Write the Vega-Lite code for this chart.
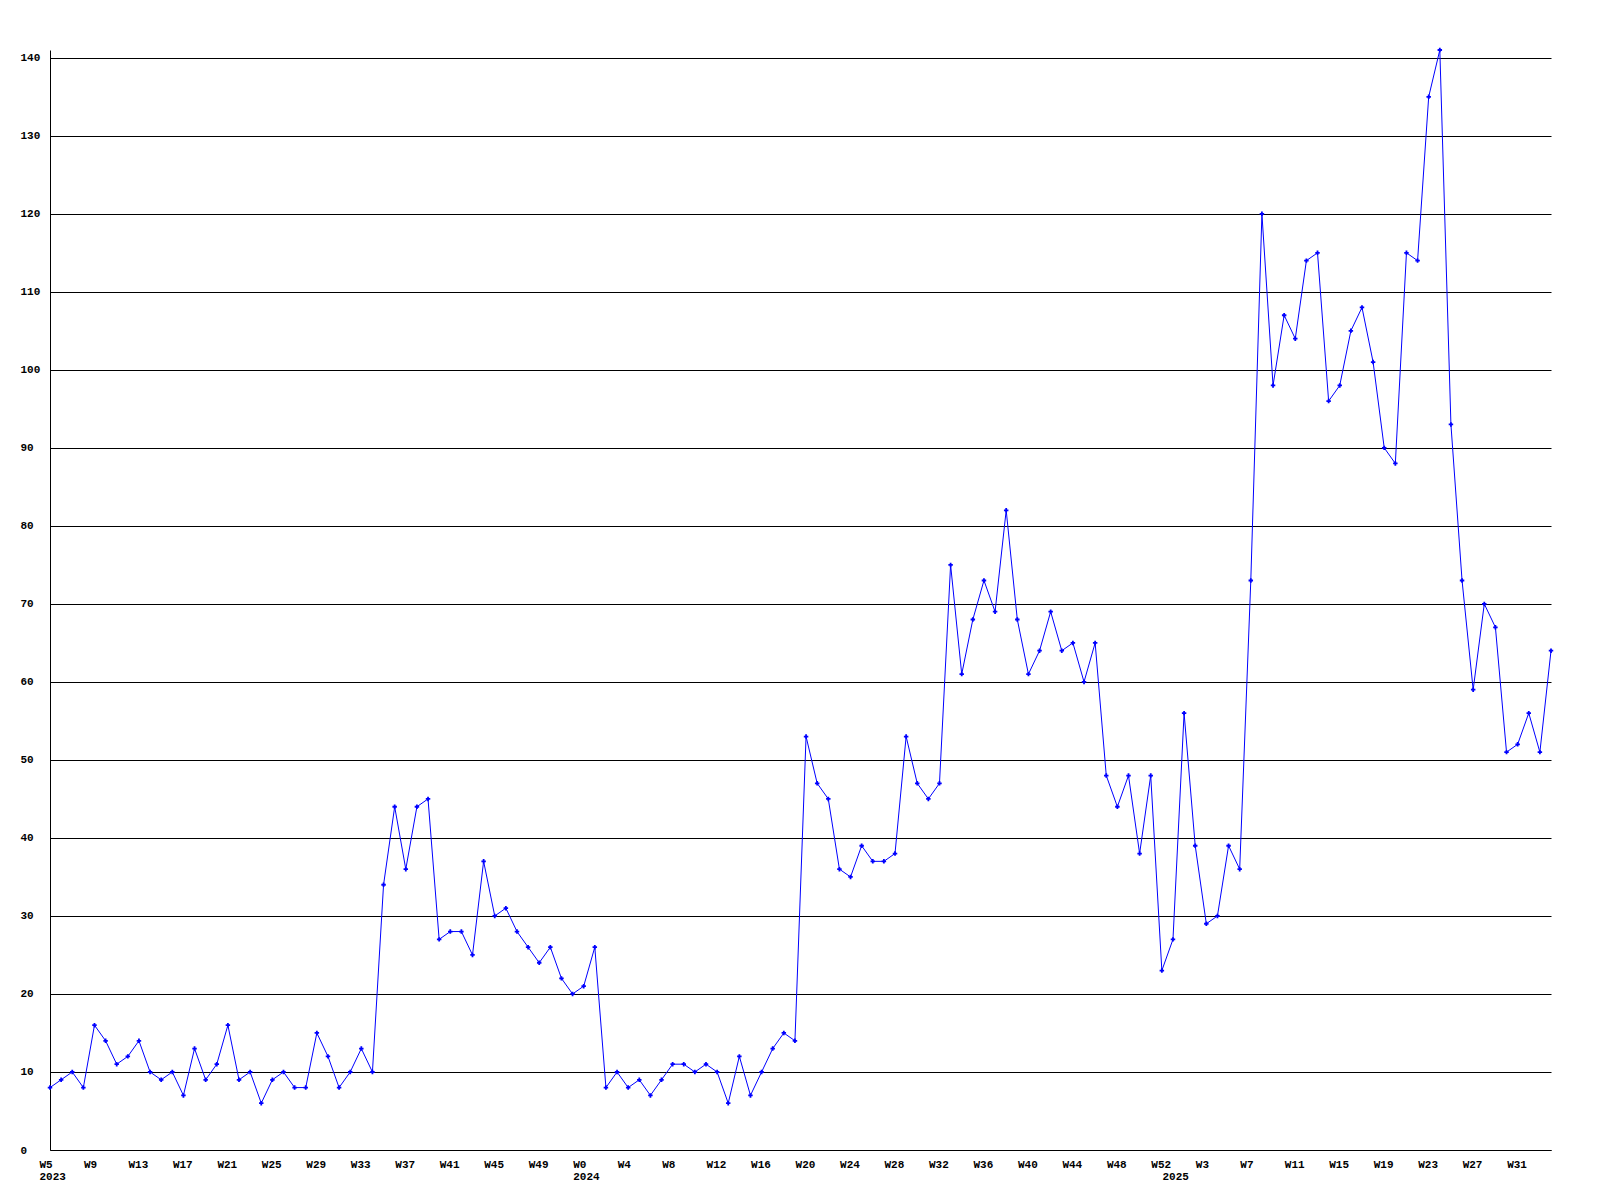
{
  "$schema": "https://vega.github.io/schema/vega-lite/v6.json",
  "width": 1501,
  "height": 1100,
  "autosize": {"type": "none"},
  "padding": {"left": 50, "top": 50, "right": 49, "bottom": 50},
  "background": "white",
  "config": {
    "view": {"stroke": null},
    "axis": {
      "labelFont": "Liberation Mono",
      "labelFontWeight": "bold",
      "labelFontSize": 11,
      "labelColor": "black",
      "domainColor": "black",
      "domainWidth": 1,
      "gridColor": "black",
      "gridOpacity": 1,
      "gridWidth": 1,
      "ticks": false,
      "title": null
    }
  },
  "data": {
    "values": [
      {"k": "2023-05", "v": 8}, {"k": "2023-06", "v": 9}, {"k": "2023-07", "v": 10}, {"k": "2023-08", "v": 8},
      {"k": "2023-09", "v": 16}, {"k": "2023-10", "v": 14}, {"k": "2023-11", "v": 11}, {"k": "2023-12", "v": 12},
      {"k": "2023-13", "v": 14}, {"k": "2023-14", "v": 10}, {"k": "2023-15", "v": 9}, {"k": "2023-16", "v": 10},
      {"k": "2023-17", "v": 7}, {"k": "2023-18", "v": 13}, {"k": "2023-19", "v": 9}, {"k": "2023-20", "v": 11},
      {"k": "2023-21", "v": 16}, {"k": "2023-22", "v": 9}, {"k": "2023-23", "v": 10}, {"k": "2023-24", "v": 6},
      {"k": "2023-25", "v": 9}, {"k": "2023-26", "v": 10}, {"k": "2023-27", "v": 8}, {"k": "2023-28", "v": 8},
      {"k": "2023-29", "v": 15}, {"k": "2023-30", "v": 12}, {"k": "2023-31", "v": 8}, {"k": "2023-32", "v": 10},
      {"k": "2023-33", "v": 13}, {"k": "2023-34", "v": 10}, {"k": "2023-35", "v": 34}, {"k": "2023-36", "v": 44},
      {"k": "2023-37", "v": 36}, {"k": "2023-38", "v": 44}, {"k": "2023-39", "v": 45}, {"k": "2023-40", "v": 27},
      {"k": "2023-41", "v": 28}, {"k": "2023-42", "v": 28}, {"k": "2023-43", "v": 25}, {"k": "2023-44", "v": 37},
      {"k": "2023-45", "v": 30}, {"k": "2023-46", "v": 31}, {"k": "2023-47", "v": 28}, {"k": "2023-48", "v": 26},
      {"k": "2023-49", "v": 24}, {"k": "2023-50", "v": 26}, {"k": "2023-51", "v": 22}, {"k": "2023-52", "v": 20},
      {"k": "2024-00", "v": 21}, {"k": "2024-01", "v": 26}, {"k": "2024-02", "v": 8}, {"k": "2024-03", "v": 10},
      {"k": "2024-04", "v": 8}, {"k": "2024-05", "v": 9}, {"k": "2024-06", "v": 7}, {"k": "2024-07", "v": 9},
      {"k": "2024-08", "v": 11}, {"k": "2024-09", "v": 11}, {"k": "2024-10", "v": 10}, {"k": "2024-11", "v": 11},
      {"k": "2024-12", "v": 10}, {"k": "2024-13", "v": 6}, {"k": "2024-14", "v": 12}, {"k": "2024-15", "v": 7},
      {"k": "2024-16", "v": 10}, {"k": "2024-17", "v": 13}, {"k": "2024-18", "v": 15}, {"k": "2024-19", "v": 14},
      {"k": "2024-20", "v": 53}, {"k": "2024-21", "v": 47}, {"k": "2024-22", "v": 45}, {"k": "2024-23", "v": 36},
      {"k": "2024-24", "v": 35}, {"k": "2024-25", "v": 39}, {"k": "2024-26", "v": 37}, {"k": "2024-27", "v": 37},
      {"k": "2024-28", "v": 38}, {"k": "2024-29", "v": 53}, {"k": "2024-30", "v": 47}, {"k": "2024-31", "v": 45},
      {"k": "2024-32", "v": 47}, {"k": "2024-33", "v": 75}, {"k": "2024-34", "v": 61}, {"k": "2024-35", "v": 68},
      {"k": "2024-36", "v": 73}, {"k": "2024-37", "v": 69}, {"k": "2024-38", "v": 82}, {"k": "2024-39", "v": 68},
      {"k": "2024-40", "v": 61}, {"k": "2024-41", "v": 64}, {"k": "2024-42", "v": 69}, {"k": "2024-43", "v": 64},
      {"k": "2024-44", "v": 65}, {"k": "2024-45", "v": 60}, {"k": "2024-46", "v": 65}, {"k": "2024-47", "v": 48},
      {"k": "2024-48", "v": 44}, {"k": "2024-49", "v": 48}, {"k": "2024-50", "v": 38}, {"k": "2024-51", "v": 48},
      {"k": "2024-52", "v": 23}, {"k": "2025-00", "v": 27}, {"k": "2025-01", "v": 56}, {"k": "2025-02", "v": 39},
      {"k": "2025-03", "v": 29}, {"k": "2025-04", "v": 30}, {"k": "2025-05", "v": 39}, {"k": "2025-06", "v": 36},
      {"k": "2025-07", "v": 73}, {"k": "2025-08", "v": 120}, {"k": "2025-09", "v": 98}, {"k": "2025-10", "v": 107},
      {"k": "2025-11", "v": 104}, {"k": "2025-12", "v": 114}, {"k": "2025-13", "v": 115}, {"k": "2025-14", "v": 96},
      {"k": "2025-15", "v": 98}, {"k": "2025-16", "v": 105}, {"k": "2025-17", "v": 108}, {"k": "2025-18", "v": 101},
      {"k": "2025-19", "v": 90}, {"k": "2025-20", "v": 88}, {"k": "2025-21", "v": 115}, {"k": "2025-22", "v": 114},
      {"k": "2025-23", "v": 135}, {"k": "2025-24", "v": 141}, {"k": "2025-25", "v": 93}, {"k": "2025-26", "v": 73},
      {"k": "2025-27", "v": 59}, {"k": "2025-28", "v": 70}, {"k": "2025-29", "v": 67}, {"k": "2025-30", "v": 51},
      {"k": "2025-31", "v": 52}, {"k": "2025-32", "v": 56}, {"k": "2025-33", "v": 51}, {"k": "2025-34", "v": 64}
    ]
  },
  "layer": [
    {
      "mark": {"type": "line", "color": "#0000ff", "strokeWidth": 1},
      "encoding": {
        "x": {
          "field": "k", "type": "ordinal", "sort": null,
          "scale": {"type": "point", "padding": 0},
          "axis": {
            "orient": "bottom",
            "values": ["2023-05", "2023-09", "2023-13", "2023-17", "2023-21", "2023-25", "2023-29", "2023-33", "2023-37", "2023-41", "2023-45", "2023-49",
                       "2024-00", "2024-04", "2024-08", "2024-12", "2024-16", "2024-20", "2024-24", "2024-28", "2024-32", "2024-36", "2024-40", "2024-44", "2024-48", "2024-52",
                       "2025-03", "2025-07", "2025-11", "2025-15", "2025-19", "2025-23", "2025-27", "2025-31"],
            "labelExpr": "'W' + toNumber(slice(datum.value, 5))",
            "grid": false,
            "domain": true,
            "labelAngle": 0,
            "labelAlign": "left",
            "labelBaseline": "top",
            "labelOffset": -11,
            "labelPadding": 8,
            "labelOverlap": false
          }
        },
        "y": {
          "field": "v", "type": "quantitative",
          "scale": {"domain": [0, 141], "nice": false, "zero": true},
          "axis": {
            "values": [0, 10, 20, 30, 40, 50, 60, 70, 80, 90, 100, 110, 120, 130, 140],
            "grid": true,
            "domain": true,
            "labelAlign": "left",
            "labelBaseline": "middle",
            "labelPadding": 30
          }
        }
      }
    },
    {
      "mark": {"type": "point", "shape": "cross", "filled": true, "color": "#0000ff", "size": 20, "opacity": 1},
      "encoding": {
        "x": {
          "field": "k", "type": "ordinal", "sort": null,
          "scale": {"type": "point", "padding": 0},
          "axis": {
            "orient": "bottom",
            "values": ["2023-05", "2024-00", "2025-00"],
            "labelExpr": "slice(datum.value, 0, 4)",
            "grid": false,
            "domain": false,
            "labelAngle": 0,
            "labelAlign": "left",
            "labelBaseline": "top",
            "labelOffset": -11,
            "labelPadding": 20,
            "labelOverlap": false
          }
        },
        "y": {
          "field": "v", "type": "quantitative",
          "scale": {"domain": [0, 141], "nice": false, "zero": true},
          "axis": {
            "values": [0, 10, 20, 30, 40, 50, 60, 70, 80, 90, 100, 110, 120, 130, 140],
            "grid": true,
            "domain": true,
            "labelAlign": "left",
            "labelBaseline": "middle",
            "labelPadding": 30
          }
        }
      }
    }
  ],
  "resolve": {"axis": {"x": "independent"}}
}
